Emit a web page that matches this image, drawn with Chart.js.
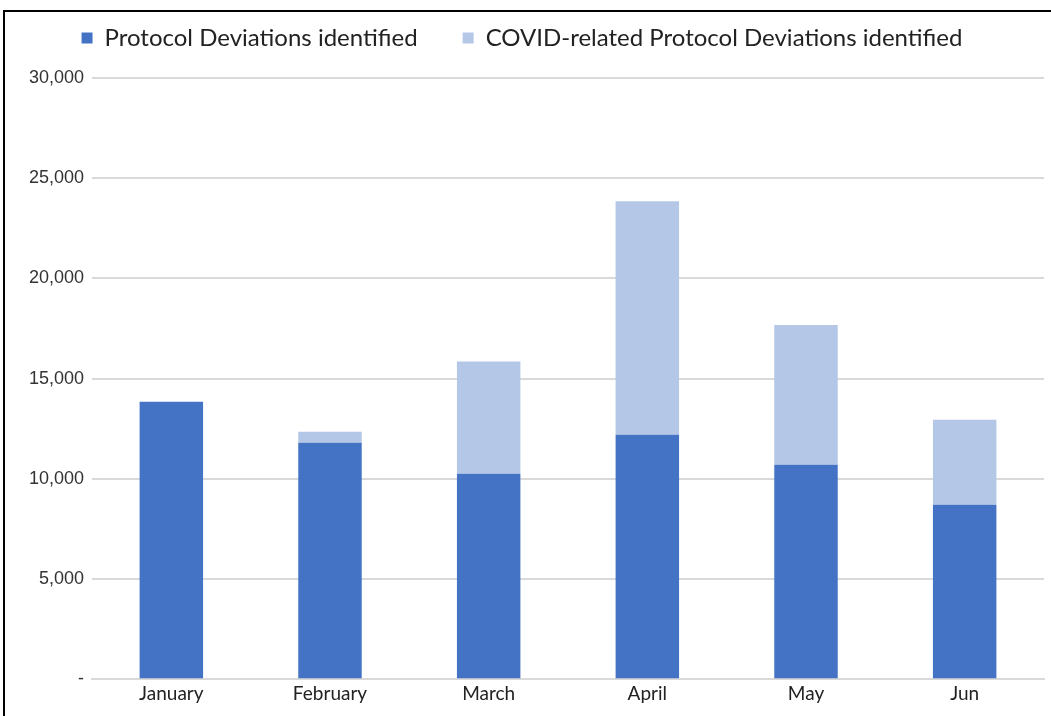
<!DOCTYPE html>
<html>
<head>
<meta charset="utf-8">
<script src="https://cdn.jsdelivr.net/npm/chart.js@4/dist/chart.umd.min.js"></script>
<style>
  html, body { margin: 0; padding: 0; background: #fff; overflow: hidden; }
  #wrap { position: relative; width: 1051px; height: 716px; }
  #frame {
    position: absolute; left: 3px; top: 10px; width: 1060px; height: 720px;
    border-top: 2px solid #000; border-left: 2px solid #000;
  }
  canvas { position: absolute; left: 0; top: 0; }
</style>
</head>
<body>
<div id="wrap">
  <div id="frame"></div>
  <canvas id="chart" width="1051" height="716"></canvas>
</div>
<script>
  // values
  const months = ['January', 'February', 'March', 'April', 'May', 'Jun']
  const deviations = [13850, 11800, 10250, 12200, 10700, 8700]
  const covidDeviations = [0, 550, 5600, 11650, 6980, 4250]
  const yTicks = [0, 5000, 10000, 15000, 20000, 25000, 30000]

  const darkBlue = '#4472C4'
  const lightBlue = '#B4C7E7'

  // legend padding is used both between items and above them,
  // so add some room under the legend by hand
  const legendGap = {
    id: 'legendGap',
    beforeUpdate(chart) {
      const legend = chart.legend
      if (!legend || legend._gapPatched) return
      const fit = legend.fit.bind(legend)
      legend.fit = function () {
        fit()
        this.height += 18
      }
      legend._gapPatched = true
    }
  }

  new Chart(document.getElementById('chart'), {
    type: 'bar',
    data: {
      labels: months,
      datasets: [
        {
          label: 'Protocol Deviations identified',
          data: deviations,
          backgroundColor: darkBlue,
          borderWidth: 0,
          barPercentage: 0.4,
          categoryPercentage: 1
        },
        {
          label: 'COVID-related Protocol Deviations identified',
          data: covidDeviations,
          backgroundColor: lightBlue,
          borderWidth: 0,
          barPercentage: 0.4,
          categoryPercentage: 1
        }
      ]
    },
    plugins: [legendGap],
    options: {
      responsive: false,
      animation: false,
      layout: { padding: { left: 0, right: 7, top: -19, bottom: 8 } },
      plugins: {
        legend: {
          position: 'top',
          labels: {
            boxWidth: 11,
            boxHeight: 11,
            padding: 45,
            color: '#222',
            font: { family: 'Lato', size: 24 }
          }
        },
        tooltip: { enabled: false }
      },
      scales: {
        x: {
          stacked: true,
          grid: { display: false, drawTicks: false },
          border: { color: '#d9d9d9', width: 2 },
          ticks: { color: '#222', padding: 3, font: { family: 'Lato', size: 19 } }
        },
        y: {
          stacked: true,
          min: 0,
          max: 30000,
          afterFit: (scale) => { scale.width = 92 },
          afterBuildTicks: (scale) => { scale.ticks = yTicks.map(v => ({ value: v })) },
          grid: { color: '#d9d9d9', lineWidth: 2, drawTicks: false },
          border: { display: false },
          ticks: {
            color: '#333',
            padding: 8,
            font: { family: 'Liberation Sans', size: 18 },
            callback: (v) => v === 0 ? '-' : v.toLocaleString('en-US')
          }
        }
      }
    }
  })
</script>
</body>
</html>
